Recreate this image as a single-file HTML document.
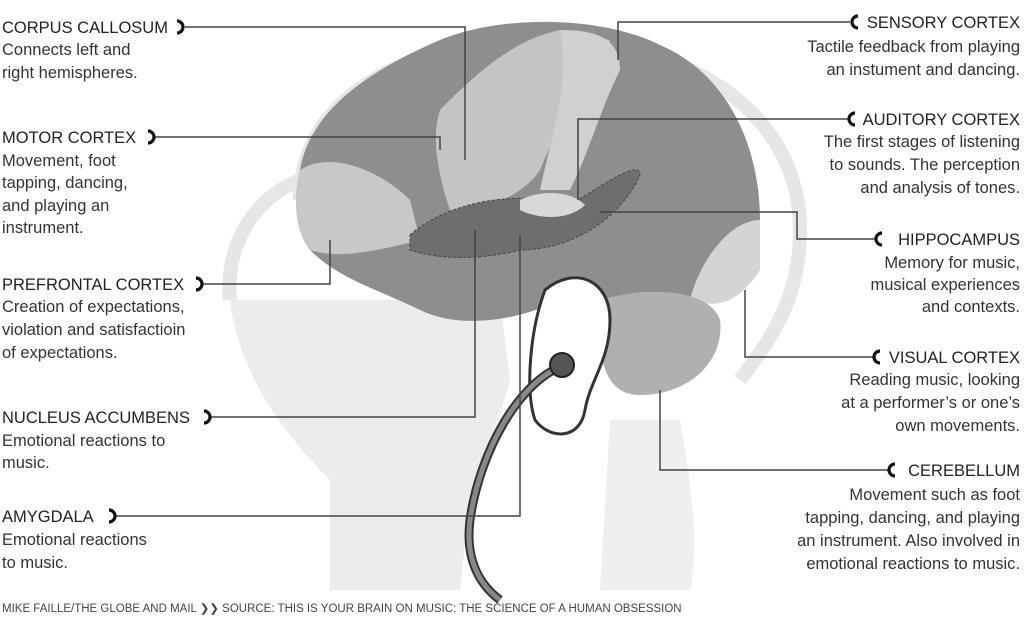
<!DOCTYPE html>
<html><head><style>
body{margin:0;background:#fff;}
svg{display:block}
text{font-family:"Liberation Sans",sans-serif;fill:#333;font-size:16.5px}
.t{fill:#222}
.r{text-anchor:end}
</style></head><body>
<svg width="1024" height="623" viewBox="0 0 1024 623">
<g fill="none" stroke="#e6e6e6" stroke-width="14">
<path d="M300 200 C300 90 420 40 540 40 C700 40 800 120 800 230 C800 300 770 340 740 380"/>
<path d="M230 300 C225 250 250 200 300 180"/>
</g>
<path d="M230 300 C240 380 290 440 330 480 L330 590 L460 590 L470 500 C480 460 500 420 510 380 L500 300 Z" fill="#ececec"/>
<path d="M680 420 C690 480 700 540 690 590 L600 590 L610 420 Z" fill="#efefef"/>
<path d="M300 170 C310 110 370 70 440 40 C500 15 600 15 660 45 C730 75 760 150 760 220 C760 280 720 300 680 300 L560 300 C520 320 460 330 420 310 C380 290 340 280 310 250 C295 230 293 200 300 170 Z" fill="#8e8e8e"/>
<path d="M300 170 C330 150 380 170 410 200 L420 240 C380 250 340 260 310 250 C295 230 293 200 300 170Z" fill="#c8c8c8"/>
<path d="M440 110 C470 80 510 40 560 30 L610 40 C590 80 560 120 540 170 C520 200 480 210 450 210 C440 180 430 140 440 110Z" fill="#c4c4c4"/>
<path d="M560 30 C600 30 620 40 620 70 C600 110 590 150 570 190 L540 190 C550 140 570 90 560 30Z" fill="#d0d0d0"/>
<path d="M690 300 C700 260 730 220 760 220 L760 270 C740 300 720 310 690 300Z" fill="#d4d4d4"/>
<path d="M410 235 C450 200 520 190 570 205 C610 180 640 160 640 175 C620 220 570 250 520 250 C480 260 440 260 410 250Z" fill="#6e6e6e" stroke="#444" stroke-dasharray="3,2"/>
<path d="M520 200 C540 190 570 190 585 205 C570 220 540 220 520 210Z" fill="#d8d8d8"/>
<path d="M600 300 C650 285 710 290 720 320 C725 360 690 395 640 395 C610 395 595 370 600 300Z" fill="#b0b0b0"/>
<path d="M545 290 C575 265 610 280 610 320 C610 360 590 380 585 410 C580 440 550 440 535 420 C525 390 530 330 545 290Z" fill="#fff" stroke="#333" stroke-width="3"/>
<path d="M565 365 C520 380 480 450 470 520 C465 560 480 585 500 600" fill="none" stroke="#333" stroke-width="9"/>
<path d="M565 365 C520 380 480 450 470 520 C465 560 480 585 500 600" fill="none" stroke="#888" stroke-width="5"/>
<circle cx="562" cy="365" r="12" fill="#555" stroke="#222" stroke-width="2"/>
<g fill="none" stroke="#444" stroke-width="1.5">
<path d="M185 27 H465 V160"/>
<path d="M155 137 H440 V150"/>
<path d="M203 284 H330 V240"/>
<path d="M211 417 H475 V230"/>
<path d="M116 516 H520 V235"/>
<path d="M850 22 H618 V60"/>
<path d="M848 119 H578 V200"/>
<path d="M875 239 H797 V212 H600"/>
<path d="M873 357 H745 V290"/>
<path d="M888 470 H660 V390"/>
</g>
<g fill="none" stroke="#111" stroke-width="3.2">
<path d="M177 21 A6 6 0 1 1 177 33"/><path d="M148 131 A6 6 0 1 1 148 143"/>
<path d="M196 278 A6 6 0 1 1 196 290"/><path d="M204 411 A6 6 0 1 1 204 423"/>
<path d="M109 510 A6 6 0 1 1 109 522"/>
<path d="M858 16 A6 6 0 1 0 858 28"/><path d="M855 113 A6 6 0 1 0 855 125"/>
<path d="M882 233 A6 6 0 1 0 882 245"/><path d="M880 351 A6 6 0 1 0 880 363"/>
<path d="M895 464 A6 6 0 1 0 895 476"/>
</g>
<text x="2" y="33" class="t">CORPUS CALLOSUM</text>
<text x="2" y="55">Connects left and</text><text x="2" y="78">right hemispheres.</text>
<text x="2" y="143" class="t">MOTOR CORTEX</text>
<text x="2" y="166">Movement, foot</text><text x="2" y="188">tapping, dancing,</text><text x="2" y="211">and playing an</text><text x="2" y="233">instrument.</text>
<text x="2" y="290" class="t">PREFRONTAL CORTEX</text>
<text x="2" y="312">Creation of expectations,</text><text x="2" y="335">violation and satisfactioin</text><text x="2" y="358">of expectations.</text>
<text x="2" y="423" class="t">NUCLEUS ACCUMBENS</text>
<text x="2" y="446">Emotional reactions to</text><text x="2" y="468">music.</text>
<text x="2" y="522" class="t">AMYGDALA</text>
<text x="2" y="545">Emotional reactions</text><text x="2" y="568">to music.</text>
<text x="1020" y="28" class="r t">SENSORY CORTEX</text>
<text x="1020" y="52" class="r">Tactile feedback from playing</text><text x="1020" y="75" class="r">an instument and dancing.</text>
<text x="1020" y="125" class="r t">AUDITORY CORTEX</text>
<text x="1020" y="147" class="r">The first stages of listening</text><text x="1020" y="170" class="r">to sounds. The perception</text><text x="1020" y="193" class="r">and analysis of tones.</text>
<text x="1020" y="245" class="r t">HIPPOCAMPUS</text>
<text x="1020" y="268" class="r">Memory for music,</text><text x="1020" y="290" class="r">musical experiences</text><text x="1020" y="312" class="r">and contexts.</text>
<text x="1020" y="363" class="r t">VISUAL CORTEX</text>
<text x="1020" y="385" class="r">Reading music, looking</text><text x="1020" y="408" class="r">at a performer’s or one’s</text><text x="1020" y="431" class="r">own movements.</text>
<text x="1020" y="476" class="r t">CEREBELLUM</text>
<text x="1020" y="500" class="r">Movement such as foot</text><text x="1020" y="523" class="r">tapping, dancing, and playing</text><text x="1020" y="546" class="r">an instrument. Also involved in</text><text x="1020" y="569" class="r">emotional reactions to music.</text>
<text x="2" y="612" style="font-size:11.5px;fill:#444">MIKE FAILLE/THE GLOBE AND MAIL  ❯❯  SOURCE: THIS IS YOUR BRAIN ON MUSIC: THE SCIENCE OF A HUMAN OBSESSION</text>
</svg>
</body></html>
